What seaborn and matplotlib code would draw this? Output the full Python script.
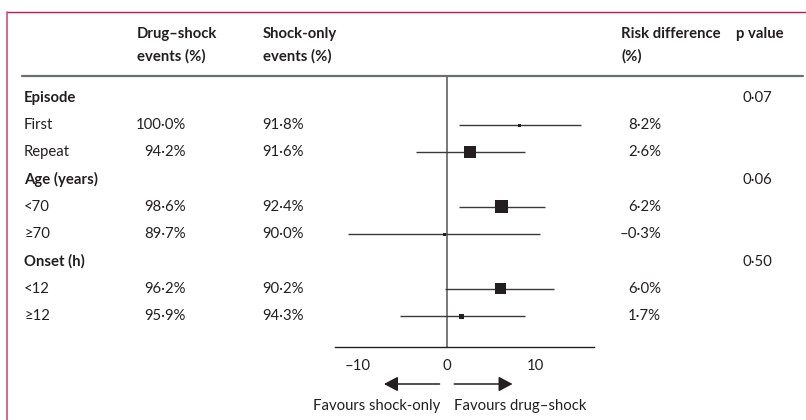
import numpy as np
import pandas as pd
import matplotlib
matplotlib.use("Agg")
import matplotlib.pyplot as plt
import matplotlib.transforms as mtransforms
from matplotlib.lines import Line2D
import seaborn as sns

# table rows, top to bottom
row_labels = ["Episode", "First", "Repeat", "Age (years)", "<70", "≥70", "Onset (h)", "<12", "≥12"]
section_labels = ["Episode", "Age (years)", "Onset (h)"]
p_values = [0.07, 0.06, 0.50]

subgroups = ["First", "Repeat", "<70", "≥70", "<12", "≥12"]
drug_shock = [100.0, 94.2, 98.6, 89.7, 96.2, 95.9]
shock_only = [91.8, 91.6, 92.4, 90.0, 90.2, 94.3]
risk_diff = [8.2, 2.6, 6.2, -0.3, 6.0, 1.7]
ci_low = [1.4, -3.5, 1.4, -11.1, -0.2, -5.3]
ci_high = [15.1, 8.8, 11.1, 10.5, 12.1, 8.8]
weight = [3, 12, 13, 3, 11, 5]  # marker side, px

x_ticks = [-10, 0, 10]
x_tick_labels = ["–10", "0", "10"]

INK = "#231f20"
W, H = 806, 420
FS = 10.7


def fmt(v, pct=True, nd=1):
    s = f"{abs(v):.{nd}f}".replace(".", "·")
    if v < 0:
        s = "–" + s
    return s + ("%" if pct else "")


def fx(px):
    return px / W


def fy(py):
    return 1 - py / H


sns.set_style("white")
plt.rcParams["font.family"] = ["Lato", "DejaVu Sans"]
plt.rcParams["font.size"] = FS
plt.rcParams["text.color"] = INK

fig = plt.figure(figsize=(W / 100, H / 100), dpi=100)

# forest axes: x 335..594 px, y 76..347 px
row0, step = 98, 27.25
ax = fig.add_axes([fx(335), fy(347), (594 - 335) / W, (347 - 76) / H])
ax.set_xlim(-12.55, 16.55)
ax.set_ylim((347 - row0) / step, (76 - row0) / step)

df = pd.DataFrame({
    "label": subgroups,
    "row": [row_labels.index(s) for s in subgroups],
    "rd": risk_diff, "lo": ci_low, "hi": ci_high,
    "area": [(w * 0.72) ** 2 for w in weight],
})

ax.axvline(0, color="#555555", lw=1.1, zorder=1)
ax.hlines(df["row"], df["lo"], df["hi"], color="#3a3a3a", lw=1.0, zorder=2)
sns.scatterplot(data=df, x="rd", y="row", size="area",
                sizes={a: a for a in df["area"]}, marker="s",
                color=INK, edgecolor="none", legend=False, ax=ax, zorder=3)

for sp in ["top", "right", "left"]:
    ax.spines[sp].set_visible(False)
ax.spines["bottom"].set_color(INK)
ax.spines["bottom"].set_linewidth(1.0)
ax.set_yticks([])
ax.set_xticks(x_ticks)
ax.set_xticklabels(x_tick_labels)
ax.tick_params(axis="x", direction="out", length=5.5, width=0.9, color=INK,
               pad=3.5, labelsize=FS, labelcolor=INK)
ax.set_xlabel("")
ax.set_ylabel("")
ax.patch.set_alpha(0)

tr = mtransforms.blended_transform_factory(fig.transFigure, ax.transData)

# header
hdr = dict(fontweight="bold", va="center", ha="left")
fig.text(fx(137), fy(34), "Drug–shock", **hdr)
fig.text(fx(137), fy(56), "events (%)", **hdr)
fig.text(fx(263), fy(34), "Shock-only", **hdr)
fig.text(fx(263), fy(56), "events (%)", **hdr)
fig.text(fx(621), fy(34), "Risk difference", **hdr)
fig.text(fx(621), fy(56), "(%)", **hdr)
fig.text(fx(736), fy(34), "p value", **hdr)

# row labels
for i, lab in enumerate(row_labels):
    bold = lab in section_labels
    ax.text(fx(24), i, lab, transform=tr, ha="left", va="center",
            fontweight="bold" if bold else "normal", clip_on=False)

for lab, p in zip(section_labels, p_values):
    i = row_labels.index(lab)
    ax.text(fx(772), i, fmt(p, pct=False, nd=2), transform=tr, ha="right",
            va="center", clip_on=False)

for _, r in df.iterrows():
    k = subgroups.index(r["label"])
    ax.text(fx(186), r["row"], fmt(drug_shock[k]), transform=tr, ha="right", va="center", clip_on=False)
    ax.text(fx(304), r["row"], fmt(shock_only[k]), transform=tr, ha="right", va="center", clip_on=False)
    ax.text(fx(661), r["row"], fmt(risk_diff[k]), transform=tr, ha="right", va="center", clip_on=False)

# arrows and favour labels
atr = mtransforms.blended_transform_factory(ax.transData, fig.transFigure)
arrow = dict(arrowstyle="-|>,head_length=0.6,head_width=0.32", mutation_scale=14,
             lw=1.1, color=INK, shrinkA=0, shrinkB=0)
ax.annotate("", xy=(-7.05, fy(384)), xytext=(-0.8, fy(384)), xycoords=atr,
            textcoords=atr, arrowprops=arrow, annotation_clip=False)
ax.annotate("", xy=(7.4, fy(384)), xytext=(0.85, fy(384)), xycoords=atr,
            textcoords=atr, arrowprops=arrow, annotation_clip=False)
fig.text(fx(440), fy(406), "Favours shock-only", ha="right", va="center")
fig.text(fx(454), fy(406), "Favours drug–shock", ha="left", va="center")

# header rule and frame
fig.add_artist(Line2D([fx(22), fx(803)], [fy(76), fy(76)], color="#6d6e71", lw=1.6))
fig.add_artist(Line2D([fx(7), fx(806)], [fy(12), fy(12)], color="#c8174b", lw=1.0))
fig.add_artist(Line2D([fx(7), fx(7)], [fy(12), fy(420)], color="#d0507a", lw=1.2))

fig.savefig("out.png", dpi=100)
